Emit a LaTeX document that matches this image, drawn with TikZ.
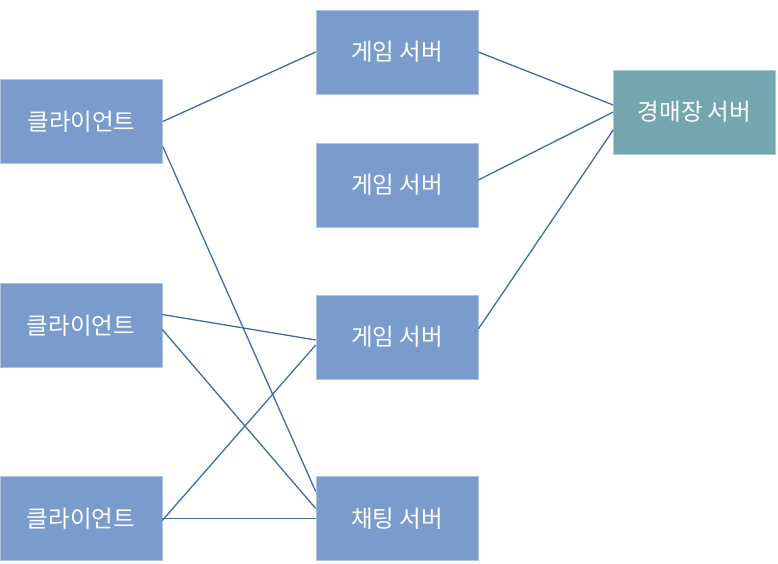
\documentclass[tikz,border=0pt]{standalone}
\usepackage{fontspec}
\newfontfamily\kofont{Noto Sans CJK KR}
\usepackage{tikz}
\usetikzlibrary{positioning, calc}
\definecolor{BoxBlue}{RGB}{122, 156, 204}
\definecolor{BoxTeal}{RGB}{116, 166, 176}
\definecolor{LinkBlue}{RGB}{65, 108, 160}

\begin{document}
\begin{tikzpicture}[
                x=1pt, y=-1pt,
                server/.style={rectangle, fill=BoxBlue, draw=BoxBlue!60!white, line width=0.6pt, minimum width=162pt, minimum height=84pt, inner sep=0pt, text=white, font=\kofont\fontsize{23.5}{26}\selectfont},
                auction/.style={server, fill=BoxTeal, draw=BoxTeal!60!white},
                link/.style={draw=LinkBlue, line width=1.3pt}
            ]
                \useasboundingbox (0,0) rectangle (778,563);

                % Clients
                \node[server] (client1) at (81.5,121.5) {클라이언트};
                \node[server] (client2) at (81,325.5) {클라이언트};
                \node[server] (client3) at (81,518.5) {클라이언트};

                % Servers
                \node[server] (game1) at (397,52) {게임 서버};
                \node[server] (game2) at (397,185) {게임 서버};
                \node[server] (game3) at (397,337) {게임 서버};
                \node[server] (chat) at (397,518.5) {채팅 서버};
                \node[auction] (auct) at (694.5,112) {경매장 서버};

                % Client connections
                \draw[link] (client1.east) -- (game1.west);
                \draw[link] ([yshift=-25pt]client1.east) -- ([yshift=27pt]chat.west);
                \draw[link] ([yshift=11pt]client2.east) -- ([yshift=-3pt]game3.west);
                \draw[link] ([yshift=-4pt]client2.east) -- ([yshift=10pt]chat.west);
                \draw[link] ([yshift=-2pt]client3.east) -- ([yshift=-8pt]game3.west);
                \draw[link] (client3.east) -- (chat.west);

                % Auction connections
                \draw[link] (game1.east) -- ([yshift=7pt]auct.west);
                \draw[link] ([yshift=5pt]game2.east) -- (auct.west);
                \draw[link] ([yshift=8pt]game3.east) -- ([yshift=-18pt]auct.west);
            \end{tikzpicture}
\end{document}
